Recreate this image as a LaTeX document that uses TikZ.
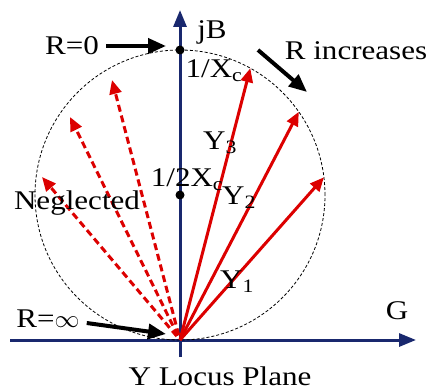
\documentclass[tikz,border=0pt]{standalone}
\usepackage{fontspec}
\setmainfont[FakeStretch=1.15]{Liberation Serif}
\usetikzlibrary{arrows.meta}
\newdimen\unitsize
\setlength{\unitsize}{1pt}
\definecolor{axisblue}{RGB}{25,40,110}
\definecolor{vecred}{RGB}{220,0,0}

\begin{document}
\begin{tikzpicture}[x=\unitsize,y=\unitsize]
\tikzset{axis/.style={axisblue, line width=3pt, -{Triangle[length=17pt,width=13pt]}}}%
\tikzset{vec/.style={vecred, line width=3pt, -{Triangle[length=14pt,width=12pt]}}}%
\tikzset{negvec/.style={vec, dash pattern=on 7pt off 4pt, shorten <=5pt}}%
\tikzset{pointer/.style={black, line width=4pt, -{Triangle[length=18pt,width=15pt]}}}%
\tikzset{lbl/.style={font=\fontsize{27}{30}\selectfont, inner sep=0pt}}%
\tikzset{dot/.style={circle, fill=black, inner sep=0pt, minimum size=9pt}}%
\useasboundingbox (0,0) rectangle (430,391);
\coordinate (O) at (180,51);
\coordinate (C) at (180,196);
% axes
\draw[axis] (180,34) -- (180,381);
\draw[axis] (10,51) -- (416,51);
% locus circle
\draw[densely dashed, line width=0.8pt] (C) circle (145pt);
\node[dot] (top) at (180,341) {};
\node[dot] (half) at (C) {};
% admittance vectors
\coordinate (Y3) at (250.3,322.8);
\coordinate (Y2) at (298.8,279.2);
\coordinate (Y1) at (323.9,213.7);
\draw[vec] (O) -- (Y3);
\draw[vec] (O) -- (Y2);
\draw[vec] (O) -- (Y1);
\coordinate (N3) at (112,311);
\coordinate (N2) at (70,274);
\coordinate (N1) at (42,214);
\draw[negvec] (O) -- (N3);
\draw[negvec] (O) -- (N2);
\draw[negvec] (O) -- (N1);
% labels
\node[lbl] (jb) at (212,359) {jB};
\node[lbl] (rzero) at (72,345) {R=0};
\node[lbl] (xc) at (214,320) {1/X\textsubscript{c}};
\node[lbl] (rinc) at (356,340) {R increases};
\node[lbl] (y3) at (220,248) {Y\textsubscript{3}};
\node[lbl] (halfxc) at (187,211) {1/2X\textsubscript{c}};
\node[lbl] (y2) at (239,193) {Y\textsubscript{2}};
\node[lbl] (negl) at (77,188) {Neglected};
\node[lbl] (y1) at (237,109) {Y\textsubscript{1}};
\node[lbl] (g) at (397,80) {G};
\node[lbl] (rinf) at (48,72) {R=$\infty$};
\node[lbl] (plane) at (220,15) {Y Locus Plane};
% pointers
\coordinate (r0tip) at (166,345);
\draw[pointer] ([xshift=7pt]rzero.east) -- (r0tip);
\coordinate (incfrom) at (258,341);
\coordinate (incto) at (307,299);
\draw[pointer] (incfrom) -- (incto);
\coordinate (rinftip) at (166,57);
\draw[pointer] ([xshift=7pt,yshift=-4pt]rinf.east) -- (rinftip);
\end{tikzpicture}
\end{document}
